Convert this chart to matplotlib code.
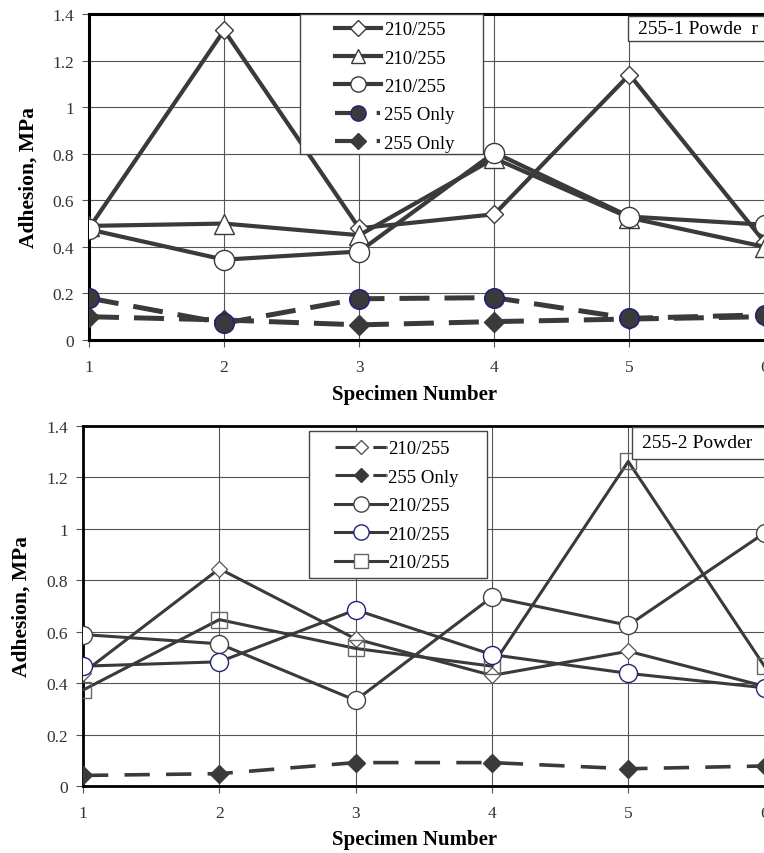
import matplotlib
matplotlib.use("Agg")
import matplotlib.pyplot as plt
from matplotlib.lines import Line2D
from matplotlib.patches import Rectangle

plt.rcParams['font.family'] = ['Liberation Serif', 'DejaVu Serif']

specimens = [1, 2, 3, 4, 5, 6]

# panel 1: 255-1 powder
p1_diamond = [0.48, 1.33, 0.48, 0.54, 1.14, 0.42]
p1_triangle = [0.49, 0.50, 0.45, 0.78, 0.525, 0.40]
p1_circle = [0.475, 0.345, 0.38, 0.805, 0.53, 0.495]
p1_only_circle = [0.18, 0.072, 0.177, 0.182, 0.093, 0.108]
p1_only_diamond = [0.10, 0.086, 0.065, 0.079, 0.09, 0.10]
p1_labels = ['210/255', '210/255', '210/255', '255 Only', '255 Only']

# panel 2: 255-2 powder
p2_diamond = [0.44, 0.845, 0.572, 0.43, 0.524, 0.388]
p2_only_diamond = [0.041, 0.048, 0.091, 0.091, 0.067, 0.078]
p2_circle = [0.589, 0.553, 0.333, 0.735, 0.625, 0.984]
p2_blue = [0.466, 0.483, 0.685, 0.511, 0.438, 0.382]
p2_square = [0.373, 0.647, 0.535, 0.466, 1.262, 0.465]
p2_labels = ['210/255', '255 Only', '210/255', '210/255', '210/255']

yticks = [0, 0.2, 0.4, 0.6, 0.8, 1.0, 1.2, 1.4]
yticklabels = ['0', '0.2', '0.4', '0.6', '0.8', '1', '1.2', '1.4']

LC = '#3a3a3a'
NAVY = '#22227a'
W, H = 764, 854

fig = plt.figure(figsize=(7.64, 8.54), dpi=100)
ax1 = fig.add_axes([89 / W, 1 - 341 / H, (765 - 89) / W, (341 - 15) / H])
ax2 = fig.add_axes([83 / W, 1 - 787 / H, (765 - 83) / W, (787 - 427) / H])


def px(x, y):
    # figure pixel (from top-left) to figure fraction
    return x / W, 1 - y / H


def style(ax, lw):
    ax.set_xlim(1, 6.003)
    ax.set_ylim(0, 1.4)
    ax.set_xticks(specimens)
    ax.set_yticks(yticks)
    ax.set_yticklabels(yticklabels)
    ax.grid(True, color='#555555', linewidth=0.8)
    ax.set_axisbelow(True)
    ax.spines['right'].set_visible(False)
    for s in ['left', 'bottom', 'top']:
        ax.spines[s].set_linewidth(lw)
        ax.spines[s].set_color('black')
    ax.tick_params(axis='both', direction='out', length=5, width=0.8,
                   color='#555555', labelsize=12.5, labelcolor='#333333')
    ax.tick_params(axis='x', pad=9)
    ax.tick_params(axis='y', pad=6)
    ax.set_xlabel('Specimen Number', fontsize=15, fontweight='bold')
    ax.set_ylabel('Adhesion, MPa', fontsize=15.5, fontweight='bold')


def box(ax, x0, y0, x1, y1):
    fx0, fy1 = px(x0, y0)
    fx1, fy0 = px(x1, y1)
    ax.add_patch(Rectangle((fx0, fy0), fx1 - fx0, fy1 - fy0, transform=fig.transFigure,
                           fc='white', ec='#444444', lw=1.0, clip_on=False, zorder=6))


style(ax1, 2.2)
style(ax2, 2.0)
ax1.yaxis.set_label_coords(-0.075, 0.5)
ax2.yaxis.set_label_coords(-0.075, 0.5)
ax1.xaxis.set_label_coords((415 - 89) / 676, -0.136)
ax2.xaxis.set_label_coords((415 - 83) / 682, -0.12)

# ---- top panel ----
lw1 = 3.0
ax1.plot(specimens, p1_only_diamond, color=LC, lw=3.6, dashes=(6, 3),
         marker='D', ms=10, mfc=LC, mec=LC, zorder=3)
ax1.plot(specimens, p1_only_circle, color=LC, lw=3.6, dashes=(6, 3),
         marker='o', ms=14, mfc=LC, mec=NAVY, mew=1.2, zorder=3)
ax1.plot(specimens, p1_diamond, color=LC, lw=lw1, marker='D', ms=9.5,
         mfc='white', mec=LC, mew=1.0, zorder=4)
ax1.plot(specimens, p1_triangle, color=LC, lw=lw1, marker='^', ms=15,
         mfc='white', mec=LC, mew=1.0, zorder=4)
ax1.plot(specimens, p1_circle, color=LC, lw=lw1, marker='o', ms=14.5,
         mfc='white', mec=LC, mew=1.0, zorder=5)

h1 = [
    Line2D([], [], color=LC, lw=3, marker='D', ms=8, mfc='white', mec=LC),
    Line2D([], [], color=LC, lw=3, marker='^', ms=10, mfc='white', mec=LC),
    Line2D([], [], color=LC, lw=3, marker='o', ms=11, mfc='white', mec=LC),
    Line2D([], [], color=LC, lw=3, dashes=(5.5, 4.5, 0.8, 10), marker='o', ms=11,
           mfc=LC, mec=NAVY),
    Line2D([], [], color=LC, lw=3, dashes=(5.5, 4.5, 0.8, 10), marker='D', ms=8,
           mfc=LC, mec=LC),
]
box(ax1, 300, 15, 483, 155)
leg1 = ax1.legend(h1, p1_labels, loc='upper left', bbox_to_anchor=px(335, 22),
                  bbox_transform=fig.transFigure, fontsize=13.5,
                  handlelength=2.45, handletextpad=0.15, numpoints=1,
                  frameon=False, borderpad=0, labelspacing=0.6, borderaxespad=0)
leg1.set_zorder(7)

box(ax1, 628, 17, 775, 42)
ax1.text(*px(638, 30), '255-1 Powde  r', transform=fig.transFigure, fontsize=14,
         va='center', ha='left', zorder=7)

# ---- bottom panel ----
lw2 = 2.2
ax2.plot(specimens, p2_only_diamond, color=LC, lw=2.6, dashes=(7, 4.5),
         marker='D', ms=9, mfc=LC, mec=LC, zorder=3)
ax2.plot(specimens, p2_diamond, color=LC, lw=lw2, marker='D', ms=8.6,
         mfc='white', mec='#555555', mew=0.9, zorder=4)
ax2.plot(specimens, p2_square, color=LC, lw=lw2, marker='s', ms=11,
         mfc='none', mec='#666666', mew=1.0, zorder=4)
ax2.plot(specimens, p2_circle, color=LC, lw=lw2, marker='o', ms=13,
         mfc='white', mec='#444444', mew=1.0, zorder=5)
ax2.plot(specimens, p2_blue, color=LC, lw=lw2, marker='o', ms=13,
         mfc='white', mec=NAVY, mew=1.0, zorder=5)

h2 = [
    Line2D([], [], color=LC, lw=2.2, dashes=(6.5, 5.9, 4.3, 0.1), marker='D', ms=7.5,
           mfc='white', mec='#555555'),
    Line2D([], [], color=LC, lw=2.2, dashes=(6.5, 5.9, 4.3, 0.1), marker='D', ms=7.5,
           mfc=LC, mec=LC),
    Line2D([], [], color=LC, lw=2.2, marker='o', ms=11, mfc='white', mec='#444444'),
    Line2D([], [], color=LC, lw=2.2, marker='o', ms=11, mfc='white', mec=NAVY),
    Line2D([], [], color=LC, lw=2.2, marker='s', ms=10, mfc='white', mec='#666666'),
]
box(ax2, 309, 432, 487, 579)
leg2 = ax2.legend(h2, p2_labels, loc='upper left', bbox_to_anchor=px(335, 441),
                  bbox_transform=fig.transFigure, fontsize=13.5,
                  handlelength=2.77, handletextpad=0.05, numpoints=1,
                  frameon=False, borderpad=0, labelspacing=0.61, borderaxespad=0)
leg2.set_zorder(7)

box(ax2, 632, 428, 775, 460)
ax2.text(*px(642, 444), '255-2 Powder', transform=fig.transFigure, fontsize=14,
         va='center', ha='left', zorder=7)

fig.savefig('out.png', dpi=100)
